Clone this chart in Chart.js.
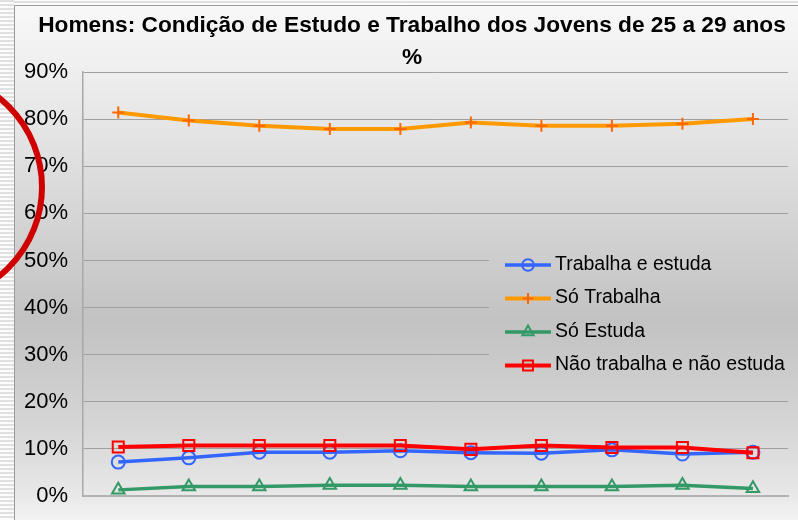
<!DOCTYPE html>
<html><head><meta charset="utf-8">
<script src="https://cdn.jsdelivr.net/npm/chart.js@4.4.1/dist/chart.umd.min.js"></script>
<style>html,body{margin:0;padding:0;background:#fff;overflow:hidden}#wrap{width:798px;height:520px}</style>
</head><body><div id="wrap"><canvas id="c" width="798" height="520"></canvas></div>
<script>
// ---- data ----
const titleLines = ['Homens: Condição de Estudo e Trabalho dos Jovens de 25 a 29 anos', '%'];
const categories = ['1', '2', '3', '4', '5', '6', '7', '8', '9', '10'];
const seriesNames = ['Trabalha e estuda', 'Só Trabalha', 'Só Estuda', 'Não trabalha e não estuda'];
const trabalhaEEstuda = [7.2, 8.1, 9.3, 9.3, 9.6, 9.2, 9.1, 9.8, 8.9, 9.3];
const soTrabalha = [81.4, 79.7, 78.6, 77.9, 77.9, 79.3, 78.6, 78.6, 79.0, 80.0];
const soEstuda = [1.3, 2.0, 2.0, 2.3, 2.3, 2.0, 2.0, 2.0, 2.3, 1.6];
const naoTrabalhaNaoEstuda = [10.4, 10.7, 10.7, 10.7, 10.7, 9.9, 10.7, 10.3, 10.3, 9.2];
const yTicks = [0, 10, 20, 30, 40, 50, 60, 70, 80, 90];

const FONT = '"Liberation Sans", Arial, sans-serif';

function makeGrad(ctx) {
  const g = ctx.createLinearGradient(0, 5, 0, 520);
  g.addColorStop(0, '#f8f8f8');
  g.addColorStop(0.107, '#f0f0f0');
  g.addColorStop(0.262, '#e3e3e3');
  g.addColorStop(0.612, '#c2c2c2');
  g.addColorStop(0.825, '#d6d6d6');
  g.addColorStop(0.951, '#e8e8e8');
  g.addColorStop(1, '#f3f3f3');
  return g;
}

function drawMarker(ctx, style, x, y, r, color, bw) {
  ctx.save();
  ctx.strokeStyle = color;
  ctx.lineWidth = bw;
  ctx.beginPath();
  if (style === 'circle') {
    ctx.arc(x, y, r, 0, Math.PI * 2);
  } else if (style === 'cross') {
    ctx.moveTo(x - r, y); ctx.lineTo(x + r, y);
    ctx.moveTo(x, y - r); ctx.lineTo(x, y + r);
  } else if (style === 'triangle') {
    for (let k = 0; k < 3; k++) {
      const a = k * 2 * Math.PI / 3;
      const px = x + Math.sin(a) * r, py = y - Math.cos(a) * r;
      if (k === 0) ctx.moveTo(px, py); else ctx.lineTo(px, py);
    }
    ctx.closePath();
  } else if (style === 'rect') {
    const s = r * Math.SQRT1_2;
    ctx.rect(x - s, y - s, 2 * s, 2 * s);
  }
  ctx.stroke();
  ctx.restore();
}

const decorPlugin = {
  id: 'decor',
  beforeDraw(chart) {
    const ctx = chart.ctx, W = chart.width, H = chart.height;
    ctx.save();
    ctx.fillStyle = '#fbfbfb';
    ctx.fillRect(0, 0, W, H);
    ctx.fillStyle = '#e0e0e0';
    for (let y = 0; y < H; y += 4) ctx.fillRect(0, y, 14, 2);
    ctx.fillRect(14, 1, W - 14, 2);
    ctx.fillStyle = makeGrad(ctx);
    ctx.fillRect(14, 5, W - 14, H - 5);
    ctx.strokeStyle = '#9a9a9a';
    ctx.lineWidth = 1;
    ctx.beginPath();
    ctx.moveTo(14.5, H); ctx.lineTo(14.5, 5.5); ctx.lineTo(W, 5.5);
    ctx.stroke();
    ctx.restore();
  },
  afterDraw(chart) {
    const ctx = chart.ctx;
    ctx.save();
    // legend box
    ctx.fillStyle = makeGrad(ctx);
    ctx.fillRect(489, 236, 309, 148);
    chart.data.datasets.forEach((ds, i) => {
      const y = 265 + i * 33.5;
      ctx.strokeStyle = ds.borderColor;
      ctx.lineWidth = ds.borderWidth;
      ctx.beginPath(); ctx.moveTo(505, y); ctx.lineTo(551, y); ctx.stroke();
      drawMarker(ctx, ds.pointStyle, 528, y, ds.pointRadius * 0.9, ds.pointBorderColor, ds.pointBorderWidth);
      ctx.fillStyle = '#000';
      ctx.font = '19.5px ' + FONT;
      ctx.textAlign = 'left';
      ctx.textBaseline = 'alphabetic';
      ctx.fillText(ds.label, 555, y + 4.5);
    });
    // red annotation circle
    ctx.strokeStyle = '#cf0000';
    ctx.lineWidth = 6;
    ctx.beginPath();
    ctx.arc(-72, 187, 114, 0, Math.PI * 2);
    ctx.stroke();
    ctx.restore();
  }
};

const markerDefs = [
  { color: '#3366ff', mcolor: '#3366ff', style: 'circle', r: 6.5, w: 3.5 },
  { color: '#ff9900', mcolor: '#ff6600', style: 'cross', r: 6, w: 4 },
  { color: '#339966', mcolor: '#339966', style: 'triangle', r: 7.2, w: 3.5 },
  { color: '#ff0000', mcolor: '#ff0000', style: 'rect', r: 7.8, w: 4 }
];
const seriesValues = [trabalhaEEstuda, soTrabalha, soEstuda, naoTrabalhaNaoEstuda];
const drawOrder = [2, 3, 4, 1];

const datasets = seriesValues.map((vals, i) => ({
  label: seriesNames[i],
  data: vals,
  borderColor: markerDefs[i].color,
  borderWidth: markerDefs[i].w,
  pointStyle: markerDefs[i].style,
  pointRadius: markerDefs[i].r,
  pointBorderColor: markerDefs[i].mcolor,
  pointBackgroundColor: 'rgba(0,0,0,0)',
  pointBorderWidth: 2,
  tension: 0,
  fill: false,
  order: drawOrder[i],
  clip: false
}));

new Chart(document.getElementById('c'), {
  type: 'line',
  data: { labels: categories, datasets },
  options: {
    responsive: false,
    animation: false,
    events: [],
    layout: { padding: { top: 8, left: 33, right: 7, bottom: 24 } },
    plugins: {
      legend: { display: false },
      tooltip: { enabled: false },
      title: {
        display: true,
        text: titleLines,
        color: '#000',
        font: { family: FONT, size: 22.7, weight: 'bold', lineHeight: 32 / 22.7 },
        padding: { top: 2, bottom: -2 }
      }
    },
    scales: {
      x: {
        type: 'category',
        offset: true,
        ticks: { display: false },
        grid: { display: false, drawTicks: false },
        border: { display: true, color: '#b2b2b2', width: 2 }
      },
      y: {
        min: 0,
        max: 90,
        afterBuildTicks: s => { s.ticks = yTicks.map(v => ({ value: v })); },
        afterFit: s => { s.width = 50; s._computeLabelArea = () => undefined; },
        ticks: {
          color: '#000',
          padding: 15,
          font: { family: FONT, size: 22, lineHeight: 0.8 },
          callback: v => v + '%'
        },
        grid: { color: '#a0a0a0', lineWidth: 1, drawTicks: false },
        border: { display: true, color: '#a8a8a8', width: 1.5 }
      }
    }
  },
  plugins: [decorPlugin]
});
</script>
</body></html>
